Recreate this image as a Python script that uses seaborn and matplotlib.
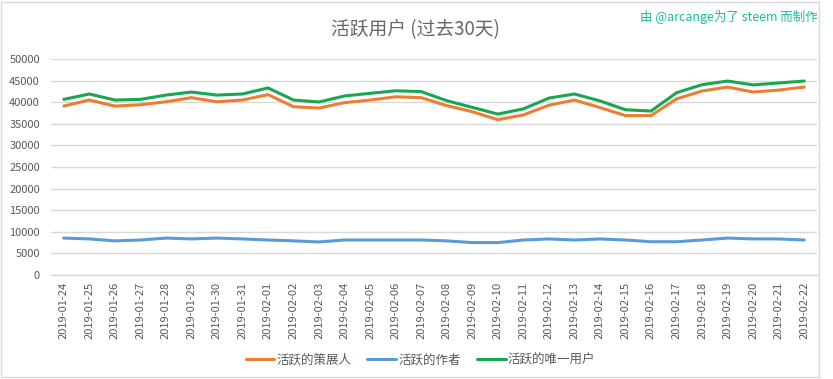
import pandas as pd
import matplotlib
matplotlib.use('Agg')
import matplotlib.pyplot as plt
import seaborn as sns
from matplotlib.patches import Rectangle

# data
dates = [
    '2019-01-24', '2019-01-25', '2019-01-26', '2019-01-27', '2019-01-28',
    '2019-01-29', '2019-01-30', '2019-01-31', '2019-02-01', '2019-02-02',
    '2019-02-03', '2019-02-04', '2019-02-05', '2019-02-06', '2019-02-07',
    '2019-02-08', '2019-02-09', '2019-02-10', '2019-02-11', '2019-02-12',
    '2019-02-13', '2019-02-14', '2019-02-15', '2019-02-16', '2019-02-17',
    '2019-02-18', '2019-02-19', '2019-02-20', '2019-02-21', '2019-02-22',
]
curators = [39100, 40500, 39100, 39400, 40100, 41050, 40100, 40500, 41750, 38950,
            38650, 39900, 40500, 41250, 41050, 39200, 37800, 35950, 37050, 39300,
            40500, 38750, 36900, 36900, 40750, 42600, 43500, 42350, 42800, 43500]
authors = [8550, 8350, 7900, 8100, 8550, 8350, 8550, 8350, 8100, 7900,
           7650, 8100, 8100, 8100, 8100, 7900, 7500, 7500, 8100, 8350,
           8100, 8350, 8100, 7700, 7700, 8100, 8550, 8350, 8350, 8100]
unique_users = [40650, 41900, 40500, 40650, 41650, 42350, 41650, 41900, 43300, 40500,
                40050, 41450, 42050, 42650, 42450, 40350, 38800, 37250, 38450, 40950,
                41900, 40300, 38250, 37950, 42200, 44050, 44900, 44000, 44450, 44900]
series_names = ['活跃的策展人', '活跃的作者', '活跃的唯一用户']
colors = ['#ED7D31', '#5B9BD5', '#17A84F']

df = pd.concat([
    pd.DataFrame({'date': dates, 'users': vals, 'series': name})
    for name, vals in zip(series_names, [curators, authors, unique_users])
])

sns.set_theme(style='white')
plt.rcParams['font.family'] = ['Noto Sans CJK SC', 'DejaVu Sans']

fig = plt.figure(figsize=(8.33, 3.79), dpi=100)
ax = fig.add_axes([51 / 833, 1 - 275 / 379, 766 / 833, 216 / 379])

sns.lineplot(data=df, x='date', y='users', hue='series', hue_order=series_names,
             palette=dict(zip(series_names, colors)), sort=False,
             linewidth=2.2, ax=ax)

ax.set_xlim(-0.5, len(dates) - 0.5)
ax.set_ylim(0, 50000)
ax.set_yticks(range(0, 50001, 5000))
ax.yaxis.grid(True, color='#D9D9D9', linewidth=1)
ax.set_axisbelow(True)
for side in ['top', 'right', 'left']:
    ax.spines[side].set_visible(False)
ax.spines['bottom'].set_color('#D9D9D9')
ax.spines['bottom'].set_linewidth(1)
ax.tick_params(axis='both', length=0, labelsize=8, labelcolor='#595959')
ax.tick_params(axis='x', rotation=90, pad=5)
ax.tick_params(axis='y', pad=8)
ax.set_xlabel('')
ax.set_ylabel('')

ax.legend(loc='upper center', bbox_to_anchor=(0.482, -0.31), ncol=3, frameon=False,
          fontsize=9, handlelength=2.3, handletextpad=0.15, columnspacing=1.3,
          labelcolor='#595959')

fig.text(415 / 833, 1 - 30 / 379, '活跃用户 (过去30天)', ha='center', va='center',
         fontsize=13.5, color='#666666')
fig.text(818 / 833, 1 - 17 / 379, '由 @arcange为了 steem 而制作', ha='right',
         va='center', fontsize=9, color='#1ABC9C')

# light frame around the chart area
fig.patches.append(Rectangle((1 / 833, 2 / 379), 818 / 833, 375 / 379,
                             transform=fig.transFigure, fill=False,
                             edgecolor='#D9D9D9', linewidth=1))

fig.savefig('out.png', dpi=100)
